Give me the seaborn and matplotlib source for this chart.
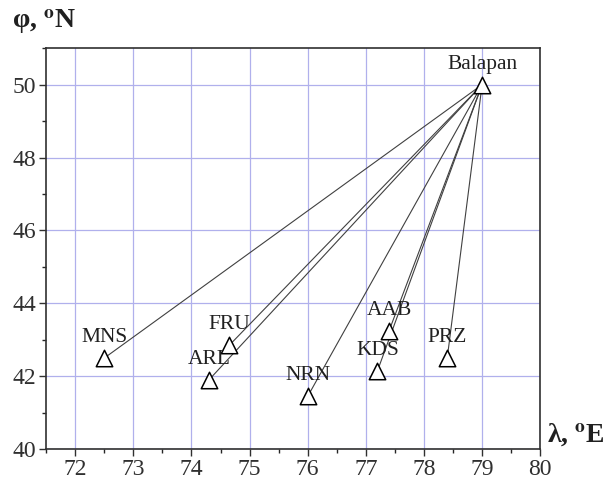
import matplotlib
matplotlib.use("Agg")
import matplotlib.pyplot as plt
from matplotlib.ticker import MultipleLocator
import numpy as np
import pandas as pd
import seaborn as sns

# Seismic stations (longitude, latitude) and the Balapan test site
stations = ["MNS", "FRU", "ARL", "NRN", "KDS", "AAB", "PRZ"]
station_lon = [72.5, 74.65, 74.3, 76.0, 77.2, 77.4, 78.4]
station_lat = [42.5, 42.85, 41.9, 41.45, 42.15, 43.25, 42.5]
source_name = "Balapan"
source_lon = 79.0
source_lat = 50.0

sns.set_theme(style="white")
plt.rcParams["font.family"] = ["Liberation Serif", "DejaVu Serif"]
plt.rcParams["mathtext.fontset"] = "stix"

fig = plt.figure(figsize=(6.07, 4.82), dpi=100)
ax = fig.add_axes([0.076, 0.068, 0.814, 0.832])

# Paths from the source to each station
seg = pd.DataFrame({
    "lon": [v for lo in station_lon for v in (source_lon, lo)],
    "lat": [v for la in station_lat for v in (source_lat, la)],
    "path": [s for s in stations for _ in range(2)],
})
sns.lineplot(data=seg, x="lon", y="lat", units="path", estimator=None, sort=False,
             color="#404040", lw=0.8, ax=ax, legend=False, zorder=2)

pts = pd.DataFrame({
    "lon": station_lon + [source_lon],
    "lat": station_lat + [source_lat],
    "name": stations + [source_name],
})
sns.scatterplot(data=pts, x="lon", y="lat", marker="^", s=140, facecolor="white",
                edgecolor="black", linewidth=1.1, ax=ax, zorder=3, legend=False)

for _, r in pts.iterrows():
    ax.annotate(r["name"], (r["lon"], r["lat"]), xytext=(0, 8), textcoords="offset points",
                ha="center", va="bottom", fontsize=15.5, color="#202020", zorder=4)

ax.set_xlim(71.5, 80)
ax.set_ylim(40, 51)
ax.xaxis.set_major_locator(MultipleLocator(1))
ax.xaxis.set_minor_locator(MultipleLocator(0.5))
ax.yaxis.set_major_locator(MultipleLocator(2))
ax.yaxis.set_minor_locator(MultipleLocator(1))
ax.grid(True, which="major", color="#b0b0ec", lw=0.9)
ax.set_axisbelow(True)
ax.tick_params(which="major", direction="out", length=5, width=1, labelsize=17,
               colors="#303030", bottom=True, left=True, pad=2)
ax.tick_params(which="minor", direction="out", length=3, width=1,
               bottom=True, left=True)
for sp in ax.spines.values():
    sp.set_color("#303030")
    sp.set_linewidth(1.2)

ax.set_xlabel("")
ax.set_ylabel("")
fig.text(0.02, 0.925, r"φ, $^{\mathbf{o}}$N", fontsize=20, fontweight="bold", ha="left",
         va="bottom", color="#202020")
fig.text(0.997, 0.07, r"λ, $^{\mathbf{o}}$E", fontsize=20, fontweight="bold", ha="right",
         va="bottom", color="#202020")

fig.savefig("out.png", dpi=100)
